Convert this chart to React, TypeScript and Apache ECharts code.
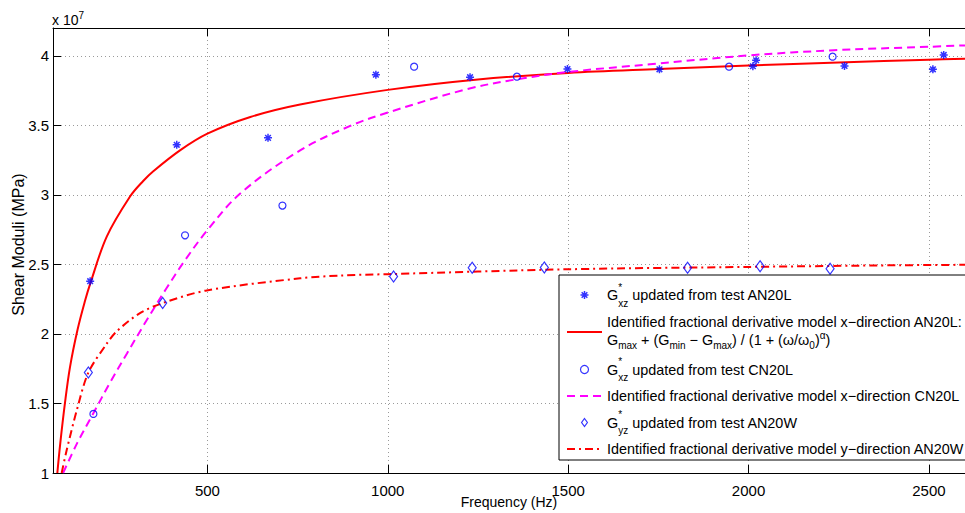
import React, { useEffect, useRef } from "react";
import * as echarts from "echarts";

// Measured data (values in units of 10^7)
const freqAN20L = [175, 415, 668, 967, 1228, 1498, 1753, 2012, 2021, 2266, 2511, 2541];
const gxzAN20L = [2.379, 3.36, 3.41, 3.864, 3.846, 3.905, 3.903, 3.925, 3.968, 3.927, 3.903, 4.006];

const freqCN20L = [184, 438, 708, 1073, 1358, 1946, 2233];
const gxzCN20L = [1.425, 2.709, 2.923, 3.922, 3.85, 3.922, 3.994];

const freqAN20W = [170, 376, 1016, 1234, 1434, 1831, 2032, 2226];
const gyzAN20W = [1.722, 2.222, 2.413, 2.476, 2.478, 2.476, 2.487, 2.468];

// Identified model curves
const modelFreqAN20L = [84, 92, 105, 119, 140, 161, 175, 221, 286, 322, 350, 424, 500, 619, 757, 1000, 1250, 1500, 1750, 2000, 2250, 2500, 2600];
const modelAN20L = [1.0, 1.21, 1.5, 1.76, 2.03, 2.24, 2.36, 2.7, 2.99, 3.1, 3.17, 3.32, 3.44, 3.56, 3.65, 3.755, 3.83, 3.877, 3.905, 3.93, 3.952, 3.972, 3.979];

const modelFreqCN20L = [100, 140, 184, 230, 277, 332, 387, 438, 498, 591, 757, 896, 1000, 1219, 1358, 1501, 1727, 2001, 2236, 2500, 2600];
const modelCN20L = [1.0, 1.22, 1.43, 1.65, 1.86, 2.1, 2.33, 2.53, 2.74, 3.01, 3.32, 3.496, 3.592, 3.76, 3.831, 3.884, 3.939, 4.003, 4.04, 4.065, 4.075];

const modelFreqAN20W = [96, 110, 138, 170, 221, 249, 313, 376, 498, 757, 868, 1000, 1500, 2000, 2420, 2600];
const modelAN20W = [1.0, 1.165, 1.452, 1.722, 1.93, 2.02, 2.15, 2.222, 2.313, 2.4, 2.42, 2.43, 2.465, 2.482, 2.494, 2.497];

const xMin = 72;
const xMax = 2600;
const yMin = 1;
const yMax = 4.2;

const names = [
  "G*xz updated from test AN20L",
  "Identified fractional derivative model x−direction AN20L",
  "G*xz updated from test CN20L",
  "Identified fractional derivative model x−direction CN20L",
  "G*yz updated from test AN20W",
  "Identified fractional derivative model y−direction AN20W",
];

const legendTexts: Record<string, string> = {
  [names[0]]: "{g|G}{s0|*}{sb|xz}{g| updated from test AN20L}",
  [names[1]]:
    "{p|Identified fractional derivative model x−direction AN20L:}\n{h|G}{tb|max}{h| + (G}{tb|min}{h| − G}{tb|max}{h|) / (1 + (ω/ω}{tb|0}{h|)}{tp|α}{h|)}",
  [names[2]]: "{g|G}{s0|*}{sb|xz}{g| updated from test CN20L}",
  [names[3]]: "{p|Identified fractional derivative model x−direction CN20L}",
  [names[4]]: "{g|G}{s0|*}{sb|yz}{g| updated from test AN20W}",
  [names[5]]: "{p|Identified fractional derivative model y−direction AN20W}",
};

const FONT = "'Liberation Sans', Arial, Helvetica, sans-serif";
const ASTERISK = "path://M0,-10L0,10M-10,0L10,0M-7.07,-7.07L7.07,7.07M-7.07,7.07L7.07,-7.07";
const DIAMOND = "path://M0,-11L8,0L0,11L-8,0Z";
const BLUE = "#0000ff";
const CLEAR = "rgba(0,0,0,0)";

function zip(xs: number[], ys: number[]): number[][] {
  return xs.map((x, i) => [x, ys[i]]);
}

export default function App() {
  const ref = useRef<HTMLDivElement>(null);

  useEffect(() => {
    if (!ref.current) return;
    const chart = echarts.init(ref.current, undefined, { renderer: "svg" });
    const markerStyle = { color: CLEAR, borderColor: BLUE, borderWidth: 1.2 };
    const starStyle = { color: CLEAR, borderColor: BLUE, borderWidth: 1.5 };
    const noSymbol = { color: CLEAR, borderColor: CLEAR, borderWidth: 0 };
    const base = { fontFamily: FONT, color: "#000" };
    chart.setOption({
      animation: false,
      textStyle: { fontFamily: FONT, color: "#000" },
      grid: { left: 53, right: 0, top: 28, bottom: 40, outerBoundsMode: "none" },
      graphic: [
        {
          type: "text",
          left: 52,
          top: 10,
          style: {
            text: "{a|x 10}{b|7}",
            fill: "#000",
            rich: {
              a: { fontSize: 14, fontFamily: FONT, fill: "#000" },
              b: { fontSize: 10, fontFamily: FONT, fill: "#000", padding: [0, 0, 10, 0] },
            },
          },
        },
      ],
      xAxis: [
        {
          type: "value",
          min: xMin,
          max: xMax,
          name: "Frequency (Hz)",
          nameLocation: "middle",
          nameGap: 22,
          nameMoveOverlap: false,
          nameTextStyle: { fontSize: 14, color: "#000", fontFamily: FONT },
          axisLine: { onZero: false, lineStyle: { color: "#000", width: 1 } },
          axisTick: { inside: true, length: 8, lineStyle: { color: "#000" } },
          axisLabel: {
            fontSize: 15,
            color: "#000",
            margin: 10,
            showMinLabel: false,
            showMaxLabel: false,
            fontFamily: FONT,
            formatter: (v: number) => String(v),
          },
          splitLine: { show: true, lineStyle: { color: "#9a9a9a", type: [1, 3], width: 1 } },
        },
        {
          type: "value",
          position: "top",
          min: xMin,
          max: xMax,
          axisLine: { onZero: false, lineStyle: { color: "#000", width: 1 } },
          axisTick: { inside: true, length: 8, lineStyle: { color: "#000" } },
          axisLabel: { show: false },
          splitLine: { show: false },
        },
      ],
      yAxis: [
        {
          type: "value",
          min: yMin,
          max: yMax,
          name: "Shear Moduli (MPa)",
          nameLocation: "middle",
          nameGap: 27,
          nameMoveOverlap: false,
          nameTextStyle: { fontSize: 16, color: "#000", fontFamily: FONT, padding: [0, 0, 0, 12] },
          axisLine: { onZero: false, lineStyle: { color: "#000", width: 1 } },
          axisTick: { inside: true, length: 8, lineStyle: { color: "#000" } },
          axisLabel: { fontSize: 15, color: "#000", margin: 4, showMaxLabel: false, fontFamily: FONT },
          splitLine: { show: true, lineStyle: { color: "#9a9a9a", type: [1, 3], width: 1 } },
        },
      ],
      legend: {
        orient: "vertical",
        left: 559,
        top: 275,
        padding: [7, 3, 4, 7],
        itemGap: 6.5,
        itemWidth: 35,
        itemHeight: 8,
        align: "left",
        selectedMode: false,
        backgroundColor: "#fff",
        borderColor: "#000",
        borderWidth: 1,
        borderRadius: 0,
        data: [
          { name: names[0], icon: ASTERISK, itemStyle: starStyle },
          { name: names[1], itemStyle: noSymbol },
          { name: names[2], icon: "circle", itemStyle: markerStyle },
          { name: names[3], itemStyle: noSymbol },
          { name: names[4], icon: DIAMOND, itemStyle: markerStyle },
          { name: names[5], itemStyle: noSymbol },
        ],
        formatter: (name: string) => legendTexts[name] || name,
        textStyle: {
          fontFamily: FONT,
          fontSize: 14.4,
          color: "#000",
          rich: {
            p: { ...base, fontSize: 14.4, lineHeight: 16 },
            g: { ...base, fontSize: 14.4, lineHeight: 21 },
            sb: { ...base, fontSize: 10, lineHeight: 21, padding: [16, 0, 0, 0] },
            s0: { ...base, fontSize: 10, lineHeight: 21, padding: [0, 0, 16, 0], width: 0 },
            h: { ...base, fontSize: 14.4, lineHeight: 21 },
            tb: { ...base, fontSize: 10, lineHeight: 21, padding: [10, 0, 0, 0] },
            tp: { ...base, fontSize: 10, lineHeight: 21, padding: [0, 0, 10, 0] },
          },
        },
      },
      series: [
        {
          name: names[0],
          type: "scatter",
          data: zip(freqAN20L, gxzAN20L),
          symbol: ASTERISK,
          symbolSize: 8,
          itemStyle: starStyle,
          z: 3,
        },
        {
          name: names[1],
          type: "line",
          data: zip(modelFreqAN20L, modelAN20L),
          showSymbol: false,
          symbol: "none",
          smooth: 0.35,
          lineStyle: { color: "#ff0000", width: 2, type: "solid" },
          itemStyle: { color: "#ff0000" },
          z: 2,
        },
        {
          name: names[2],
          type: "scatter",
          data: zip(freqCN20L, gxzCN20L),
          symbol: "circle",
          symbolSize: 7,
          itemStyle: markerStyle,
          z: 3,
        },
        {
          name: names[3],
          type: "line",
          data: zip(modelFreqCN20L, modelCN20L),
          showSymbol: false,
          symbol: "none",
          smooth: 0.35,
          lineStyle: { color: "#ff00ff", width: 2, type: [8, 5] },
          itemStyle: { color: "#ff00ff" },
          z: 2,
        },
        {
          name: names[4],
          type: "scatter",
          data: zip(freqAN20W, gyzAN20W),
          symbol: DIAMOND,
          symbolSize: [8, 11],
          itemStyle: markerStyle,
          z: 3,
        },
        {
          name: names[5],
          type: "line",
          data: zip(modelFreqAN20W, modelAN20W),
          showSymbol: false,
          symbol: "none",
          smooth: 0.3,
          lineStyle: { color: "#ff0000", width: 2, type: [8, 4, 2, 4] },
          itemStyle: { color: "#ff0000" },
          z: 2,
        },
      ],
    });
    return () => chart.dispose();
  }, []);

  return (
    <div
      ref={ref}
      style={{ position: "fixed", left: 0, top: 0, width: 965, height: 513, background: "#fff" }}
    />
  );
}
